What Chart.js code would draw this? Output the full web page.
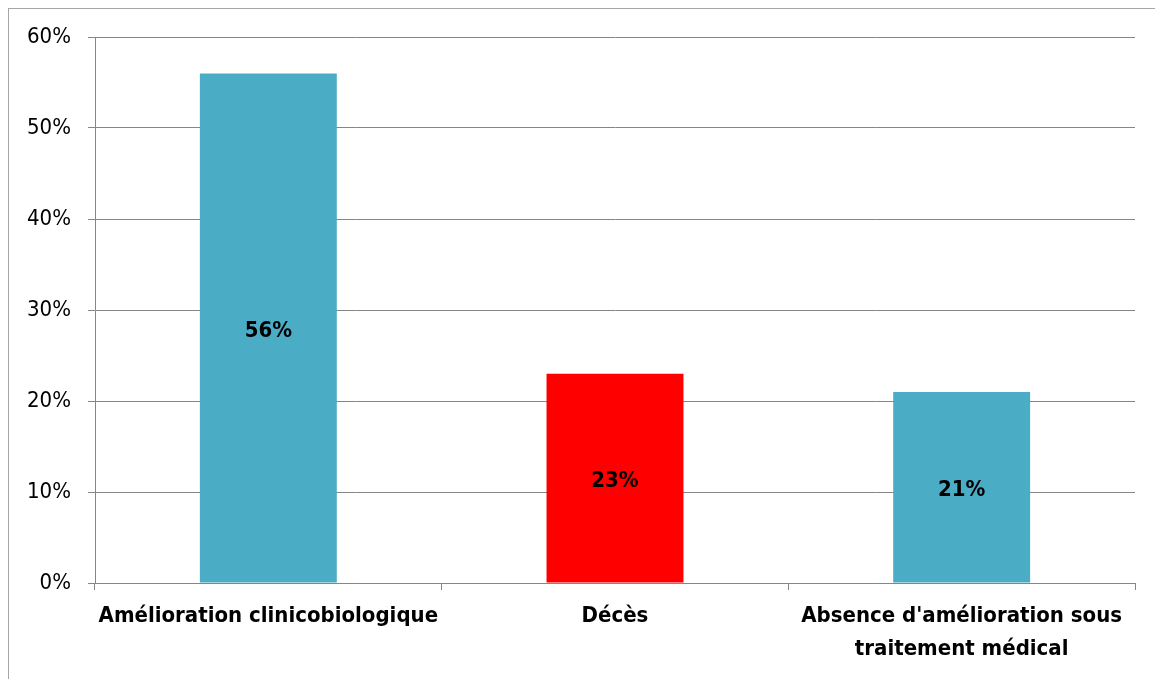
<!DOCTYPE html>
<html lang="fr">
<head>
<meta charset="UTF-8">
<title>Évolution</title>
<style>
  html, body { margin: 0; padding: 0; background: #fff; }
  .wrap { width: 1155px; height: 679px; position: relative; }
</style>
</head>
<body>
<div class="wrap"><canvas id="graphique" width="1155" height="679"></canvas></div>

<script src="https://cdn.jsdelivr.net/npm/chart.js"></script>
<script>
// données
const categories = [
  'Amélioration clinicobiologique',
  'Décès',
  ["Absence d'amélioration sous", 'traitement médical']
];
const valeurs = [56, 23, 21];
const couleurs = ['#4BACC6', '#FF0000', '#4BACC6'];
const ticksY = [0, 10, 20, 30, 40, 50, 60];

const police = "'Liberation Sans Narrow', 'DejaVu Sans Condensed', sans-serif";

// cadre gris autour du graphique
const cadre = {
  id: 'cadre',
  beforeDraw(chart) {
    const ctx = chart.ctx;
    ctx.save();
    ctx.strokeStyle = '#a6a6a6';
    ctx.lineWidth = 1;
    ctx.strokeRect(8.5, 8.5, 1300, 800);
    ctx.restore();
  }
};

// étiquettes au milieu des barres
const etiquettes = {
  id: 'etiquettes',
  afterDatasetsDraw(chart) {
    const ctx = chart.ctx;
    const meta = chart.getDatasetMeta(0);
    ctx.save();
    ctx.font = 'bold 22px ' + police;
    ctx.fillStyle = '#000';
    ctx.textAlign = 'center';
    ctx.textBaseline = 'middle';
    meta.data.forEach((bar, i) => {
      ctx.fillText(valeurs[i] + '%', bar.x, (bar.y + bar.base) / 2 + 3);
    });
    ctx.restore();
  }
};

new Chart(document.getElementById('graphique'), {
  type: 'bar',
  data: {
    labels: categories,
    datasets: [{
      data: valeurs,
      backgroundColor: couleurs,
      barPercentage: 0.395,
      categoryPercentage: 1
    }]
  },
  options: {
    responsive: false,
    animation: false,
    layout: { padding: { top: 37, right: 20, left: 0, bottom: 0 } },
    plugins: { legend: { display: false }, tooltip: { enabled: false } },
    scales: {
      x: {
        grid: { drawOnChartArea: false, color: '#868686', tickLength: 7, offset: true },
        border: { color: '#868686' },
        ticks: {
          color: '#000',
          padding: 10,
          maxRotation: 0,
          autoSkip: false,
          font: { family: police, size: 22, weight: 'bold', lineHeight: 1.5 }
        },
        afterFit(scale) { scale.height = 96; }
      },
      y: {
        min: 0,
        max: 60,
        afterBuildTicks(scale) { scale.ticks = ticksY.map(v => ({ value: v })); },
        grid: { color: '#868686', tickLength: 7 },
        border: { color: '#868686' },
        ticks: {
          color: '#000',
          padding: 17,
          font: { family: police, size: 22 },
          callback: v => v + '%'
        },
        afterFit(scale) { scale.width = 95; }
      }
    }
  },
  plugins: [cadre, etiquettes]
});
</script>
</body>
</html>
